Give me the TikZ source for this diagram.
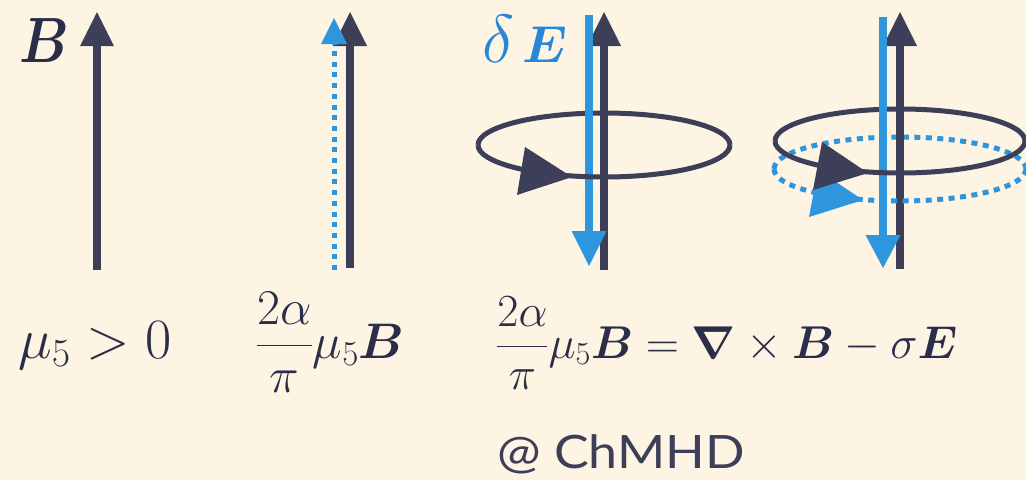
\RequirePackage{fix-cm}
\documentclass[tikz,border=0pt]{standalone}
\usepackage{amsmath,bm}
\usepackage{fontspec}
\newfontfamily\labelfont{Lato}
\definecolor{bgc}{RGB}{254,244,227}
\definecolor{dk}{RGB}{61,62,87}
\definecolor{tdk}{RGB}{43,46,72}
\definecolor{bl}{RGB}{46,150,220}
\definecolor{bltext}{RGB}{40,135,215}
\tikzset{
  dkline/.style={draw=dk, line width=8pt},
  blline/.style={draw=bl, line width=7.5pt},
  bldots/.style={draw=bl, line width=5pt, dash pattern=on 5pt off 5.7pt},
  ringline/.style={draw=dk, line width=5pt},
  blring/.style={draw=bl, line width=5pt, dash pattern=on 6pt off 5.5pt},
  lbl/.style={inner sep=0pt, anchor=base west, text=tdk},
}
\begin{document}
\begin{tikzpicture}[x=1pt,y=-1pt]
\fill[bgc] (0,0) rectangle (1026,480);
\useasboundingbox (0,0) rectangle (1026,480);

% ---- arrow 1
\draw[dkline] (97,270) -- (97,44);
\fill[dk] (97,12) -- (114,46) -- (80,46) -- cycle;
\node[lbl] (lB) at (19,62) {\fontsize{64pt}{70pt}\selectfont\scalebox{0.85}[1]{$\bm{B}$}};

% ---- arrow 2
\draw[dkline] (350,268) -- (350,44);
\fill[dk] (350,12) -- (367,46) -- (333,46) -- cycle;
\draw[bldots] (334,270) -- (334,42);
\fill[bl] (334,18) -- (347,44) -- (321,44) -- cycle;

% ---- arrow 3
\draw[ringline] (730,145) arc[start angle=0, end angle=180, x radius=126pt, y radius=32pt];
\draw[dkline] (604,270) -- (604,44);
\fill[dk] (604,12) -- (621,46) -- (587,46) -- cycle;
\draw[blline] (589,15) -- (589,233);
\fill[bl] (589,266) -- (606.5,231) -- (571.5,231) -- cycle;
\draw[ringline] (478,145) arc[start angle=180, end angle=360, x radius=126pt, y radius=32pt];
\fill[dk] (572,177) -- (525,147) -- (517,195) -- cycle;
\node[anchor=base west, inner sep=0pt, text=bltext] (lE) at (482,62) {\fontsize{52pt}{58pt}\selectfont$\mbox{\fontsize{68pt}{72pt}\selectfont$\delta$}\,\bm{E}$};

% ---- arrow 4
\draw[ringline] (1025,141) arc[start angle=0, end angle=180, x radius=125pt, y radius=32pt];
\draw[blring] (1026,169) arc[start angle=0, end angle=180, x radius=126pt, y radius=32pt];
\draw[dkline] (900,269) -- (900,44);
\fill[dk] (900,12) -- (917,46) -- (883,46) -- cycle;
\draw[blline] (883,17) -- (883,237);
\fill[bl] (883,268) -- (900.5,235) -- (865.5,235) -- cycle;
\draw[blring] (774,169) arc[start angle=180, end angle=360, x radius=126pt, y radius=32pt];
\draw[ringline] (775,141) arc[start angle=180, end angle=360, x radius=125pt, y radius=32pt];
\fill[bl] (863,200) -- (818,170) -- (809,217) -- cycle;
\fill[dk] (868,173) -- (822,142) -- (813,190) -- cycle;

% ---- formulas
\node[lbl] (f1) at (18,358) {\fontsize{57pt}{60pt}\selectfont$\mu_5>0$};
\node[lbl] (f2) at (256,358) {\fontsize{50pt}{54pt}\selectfont$\dfrac{2\alpha}{\pi}\mu_5\bm{B}$};
\node[lbl] (f3) at (496,358) {\fontsize{46pt}{50pt}\selectfont$\dfrac{2\alpha}{\pi}\mu_5\bm{B}=\bm{\nabla}\times\bm{B}-\sigma\bm{E}$};
\node[inner sep=0pt, anchor=base west, text=dk] (at) at (497,468) {\fontsize{46pt}{52pt}\labelfont\scalebox{1.13}[1]{@ ChMHD}};
\end{tikzpicture}
\end{document}
